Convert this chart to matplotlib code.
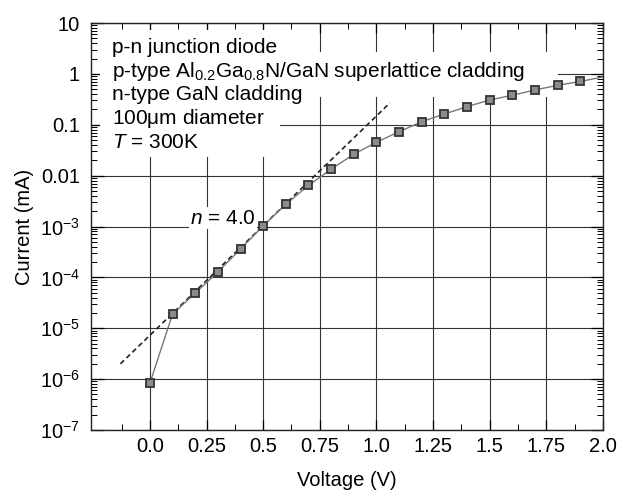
import matplotlib
matplotlib.use("Agg")
import matplotlib.pyplot as plt
from matplotlib.patches import Rectangle
from matplotlib.ticker import FixedLocator, LogLocator, NullFormatter

plt.rcParams['font.family'] = ['Liberation Sans', 'DejaVu Sans']
plt.rcParams['mathtext.fontset'] = 'custom'
plt.rcParams['mathtext.rm'] = 'Liberation Sans'
plt.rcParams['mathtext.it'] = 'Liberation Sans:italic'
plt.rcParams['mathtext.sf'] = 'Liberation Sans'

# ---- data ----
voltage = [0.0, 0.1, 0.2, 0.3, 0.4, 0.5, 0.6, 0.7, 0.8, 0.9,
           1.0, 1.1, 1.2, 1.3, 1.4, 1.5, 1.6, 1.7, 1.8, 1.9, 2.0]
current = [8.3e-7, 1.9e-5, 4.9e-5, 1.28e-4, 3.6e-4, 1.03e-3, 2.74e-3, 6.4e-3,
           0.0134, 0.0263, 0.0453, 0.073, 0.115, 0.163, 0.227, 0.307,
           0.38, 0.483, 0.597, 0.71, 0.87]
n_measured = 20  # markers on the first 20 points; last value = line continuation

fit_voltage = [-0.13, 1.06]
fit_current = [2.0e-6, 0.27]

xticks = [0.0, 0.25, 0.5, 0.75, 1.0, 1.25, 1.5, 1.75, 2.0]
xticklabels = ['0.0', '0.25', '0.5', '0.75', '1.0', '1.25', '1.5', '1.75', '2.0']
yticks = [1e-7, 1e-6, 1e-5, 1e-4, 1e-3, 1e-2, 1e-1, 1, 10]
yticklabels = [r'$\mathregular{10^{-7}}$', r'$\mathregular{10^{-6}}$', r'$\mathregular{10^{-5}}$',
               r'$\mathregular{10^{-4}}$', r'$\mathregular{10^{-3}}$', '0.01', '0.1', '1', '10']

info_lines = ['p-n junction diode',
              r'p-type Al$_{0.2}$Ga$_{0.8}$N/GaN superlattice cladding',
              'n-type GaN cladding',
              r'100$\mathregular{\mu}$m diameter',
              r'$T$ = 300K']
fit_label = r'$n$ = 4.0'

FS = 14.5
FS_INFO = 15

# ---- figure ----
W, H = 629, 495
fig = plt.figure(figsize=(W / 100, H / 100), dpi=100)
ax = fig.add_axes([91 / W, 1 - 430 / H, (603 - 91) / W, (430 - 23) / H])

ax.set_yscale('log')
ax.set_xlim(-0.26, 2.0)
ax.set_ylim(1e-7, 10)

ax.set_xticks(xticks)
ax.set_xticklabels(xticklabels)
ax.xaxis.set_minor_locator(FixedLocator([-0.125 + 0.25 * i for i in range(9)]))
ax.set_yticks(yticks)
ax.set_yticklabels(yticklabels)
ax.yaxis.set_minor_locator(LogLocator(base=10, subs=range(2, 10), numticks=20))
ax.yaxis.set_minor_formatter(NullFormatter())

ax.tick_params(which='both', direction='in', top=True, right=True,
               labelsize=FS, colors='black')
ax.tick_params(which='major', length=7, width=0.9)
ax.tick_params(axis='x', which='major', pad=5)
ax.tick_params(axis='y', which='major', pad=8)
ax.tick_params(which='minor', length=4, width=0.7)
ax.tick_params(axis='y', which='major', length=9)

ax.grid(True, which='major', color='#333333', linewidth=0.8)
ax.set_axisbelow(True)
for s in ax.spines.values():
    s.set_linewidth(1.0)
    s.set_color('#222222')

# white areas behind the annotation block
ax.add_patch(Rectangle((0.018, 0.671), 0.369 - 0.018, 0.312, transform=ax.transAxes,
                       facecolor='white', edgecolor='none', zorder=1))
ax.add_patch(Rectangle((0.018, 0.818), 0.912 - 0.018, 0.111, transform=ax.transAxes,
                       facecolor='white', edgecolor='none', zorder=1))

# data
ax.plot(fit_voltage, fit_current, linestyle=(0, (3, 2)), color='#222222',
        linewidth=1.2, zorder=3)
ax.plot(voltage, current, color='#777777', linewidth=1.0, marker='s',
        markersize=6, markerfacecolor='#8c8c8c', markeredgecolor='#333333',
        markeredgewidth=1.3, markevery=list(range(n_measured)), zorder=4,
        clip_on=True)

# annotation text
ys = [47, 71, 94, 118, 142]
for t, yp in zip(info_lines, ys):
    ax.text(0.041, 1 - (yp - 23) / 407, t, transform=ax.transAxes,
            fontsize=FS_INFO, va='center', ha='left', zorder=5)

ax.text((190 - 91) / 512, 1 - (218 - 23) / 407, fit_label, transform=ax.transAxes,
        fontsize=FS_INFO, va='center', ha='left', zorder=5,
        bbox=dict(facecolor='white', edgecolor='none', pad=1.0))

ax.set_xlabel('Voltage (V)', fontsize=FS, labelpad=11)
ax.set_ylabel('Current (mA)', fontsize=FS, labelpad=4)

fig.savefig('out.png', dpi=100)
